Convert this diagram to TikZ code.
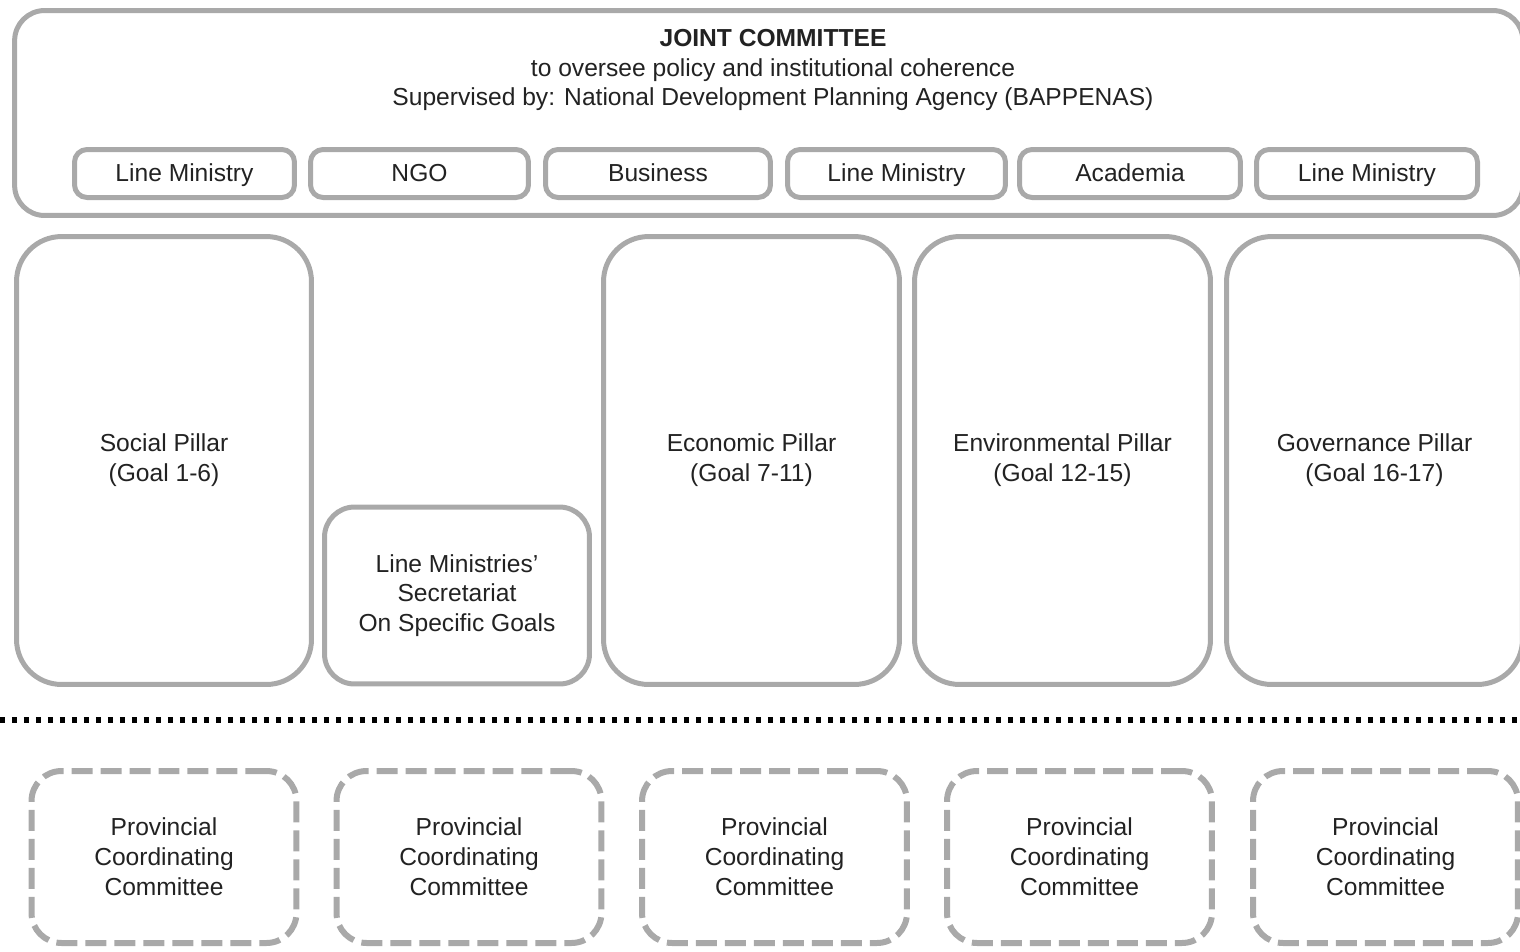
\documentclass[tikz,border=0pt]{standalone}
\usepackage{fontspec}
\setmainfont{Liberation Sans}
\definecolor{boxgray}{HTML}{A9A9A9}
\definecolor{txtgray}{HTML}{222222}

\begin{document}
\begin{tikzpicture}[x=0.02cm, y=-0.02cm,
        every node/.style={text=txtgray, font=\fontsize{14}{17}\selectfont, align=center, inner sep=0pt},
        frame/.style={draw=boxgray, line width=0.1cm, rounded corners=0.6cm},
        member/.style={draw=boxgray, line width=0.1cm, rounded corners=0.25cm, minimum height=0.96cm, text height=12pt, text depth=3pt},
        pillar/.style={draw=boxgray, line width=0.1cm, rounded corners=0.9cm, minimum width=5.92cm, minimum height=8.96cm},
        province/.style={draw=boxgray, line width=0.12cm, dash pattern=on 0.42cm off 0.16cm, rounded corners=0.6cm, minimum width=5.3cm, minimum height=3.44cm}]
        \useasboundingbox (0,0) rectangle (1520,951);

        \node[frame, minimum width=30.17cm, minimum height=4.1cm] (joint) at (768.75,113) {};
        \node (jointtext) at (773,70) {\textbf{JOINT COMMITTEE}\\to oversee policy and institutional coherence\\Supervised by: National Development Planning Agency (BAPPENAS)};

        \node[member, minimum width=4.4cm] (lineA) at (184.5,173.5) {Line Ministry};
        \node[member, minimum width=4.36cm] (ngo) at (419.5,173.5) {NGO};
        \node[member, minimum width=4.5cm] (business) at (658,173.5) {Business};
        \node[member, minimum width=4.36cm] (lineB) at (896.5,173.5) {Line Ministry};
        \node[member, minimum width=4.42cm] (academia) at (1130,173.5) {Academia};
        \node[member, minimum width=4.42cm] (lineC) at (1367,173.5) {Line Ministry};

        \node[pillar, minimum width=5.9cm] (social) at (164,460.5) {Social Pillar\\(Goal 1-6)};
        \node[frame, minimum width=5.3cm, minimum height=3.54cm] (secretariat) at (457,595.5) {Line Ministries'\\Secretariat\\On Specific Goals};
        \node[pillar] (economic) at (751.5,460.5) {Economic Pillar\\(Goal 7-11)};
        \node[pillar] (environmental) at (1062.5,460.5) {Environmental Pillar\\(Goal 12-15)};
        \node[pillar] (governance) at (1374.5,460.5) {Governance Pillar\\(Goal 16-17)};

        \coordinate (divleft) at (0,720);
        \coordinate (divright) at (1520,720);
        \draw[black, line width=0.12cm, dash pattern=on 0.1cm off 0.14cm] (divleft) -- (divright);

        \node[province] (provA) at (164,857) {Provincial\\Coordinating\\Committee};
        \node[province] (provB) at (469,857) {Provincial\\Coordinating\\Committee};
        \node[province] (provC) at (774.5,857) {Provincial\\Coordinating\\Committee};
        \node[province] (provD) at (1079.5,857) {Provincial\\Coordinating\\Committee};
        \node[province] (provE) at (1385.5,857) {Provincial\\Coordinating\\Committee};
    \end{tikzpicture}
\end{document}
